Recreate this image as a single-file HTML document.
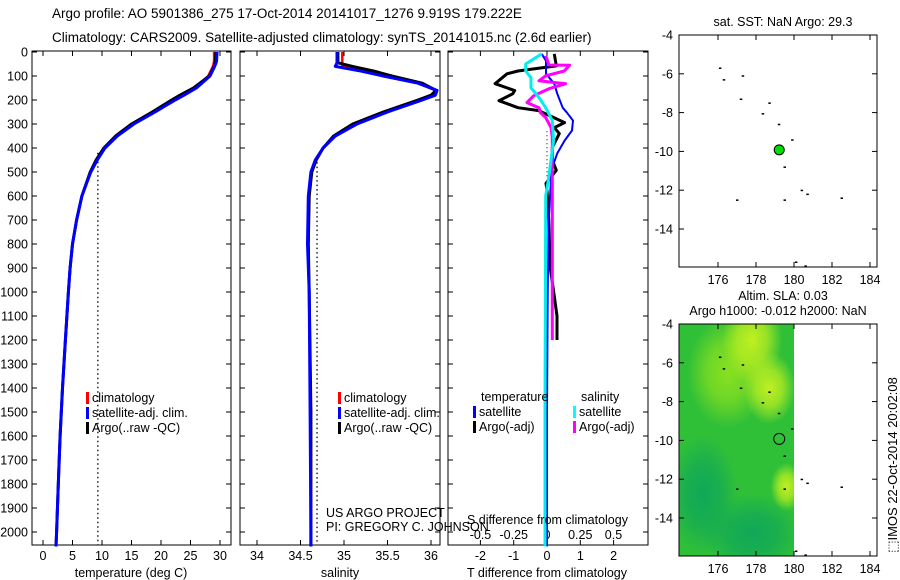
<!DOCTYPE html>
<html><head><meta charset="utf-8"><style>
body{margin:0;background:#fff;}
svg{display:block;font-family:"Liberation Sans",sans-serif;}
text{fill:#000;}
</style></head><body>
<svg id="fig" width="900" height="580" viewBox="0 0 900 580" xmlns="http://www.w3.org/2000/svg">
<text x="52" y="18" font-size="13.5">Argo profile: AO 5901386_275 17-Oct-2014 20141017_1276 9.919S 179.222E</text>
<text x="52" y="42" font-size="13.5">Climatology: CARS2009. Satellite-adjusted climatology: synTS_20141015.nc (2.6d earlier)</text>
<g id="p1"></g>
<g id="p2"></g>
<g id="p3"></g>
<g id="m1"></g>
<g id="m2"></g>
<text transform="translate(897,465) rotate(-90)" text-anchor="middle" font-size="13">⬚IMOS 22-Oct-2014 20:02:08</text>
</svg>
<script>
// ---- data ----
const depthTicks=[0,100,200,300,400,500,600,700,800,900,1000,1100,1200,1300,1400,1500,1600,1700,1800,1900,2000];
const depthT=[0,40,60,100,150,180,200,250,300,350,400,450,500,600,700,800,900,1000,1200,1400,1600,1800,2000,2060];
const tempArgo=[29.3,29.2,29.0,28.2,25.5,23.2,21.8,18.5,15.0,12.3,10.3,9.0,8.0,6.6,5.7,5.0,4.6,4.3,3.8,3.3,2.9,2.6,2.3,2.2];
const tempClim=[29.0,29.0,28.8,28.0,25.8,23.8,22.2,18.8,15.2,12.4,10.4,9.1,8.1,6.6,5.7,5.0,4.6,4.3,3.8,3.3,2.9,2.6,2.3,2.2];
const tempSat=[29.5,29.4,29.1,28.3,26.0,23.9,22.4,19.0,15.4,12.6,10.5,9.2,8.1,6.6,5.7,5.0,4.6,4.3,3.8,3.3,2.9,2.6,2.3,2.2];
const tempTicks=[0,5,10,15,20,25,30];
const depthS=[0,45,60,80,100,130,160,180,200,250,300,350,400,450,500,600,800,1000,1500,2000,2060];
const salArgo=[34.93,34.93,35.1,35.35,35.55,35.9,36.06,36.0,35.85,35.45,35.1,34.88,34.76,34.68,34.63,34.6,34.59,34.6,34.62,34.62,34.62];
const salClim=[34.98,34.98,34.98,35.25,35.45,35.85,36.05,36.05,35.9,35.5,35.15,34.9,34.76,34.68,34.63,34.6,34.59,34.6,34.62,34.62,34.62];
const salSat=[34.92,34.92,34.9,35.2,35.45,35.85,36.07,36.05,35.9,35.5,35.15,34.9,34.76,34.67,34.62,34.59,34.58,34.6,34.61,34.62,34.62];
const salTicks=[34,34.5,35,35.5,36];
const depthDA=[8,58,79,91,132,161,174,203,232,244,294,315,340,398,451,493,547,576,700,900,1000,1100,1200];
const tDiffArgo=[0.22,0.28,-0.87,-1.2,-1.56,-0.97,-1.03,-1.44,-0.87,-0.25,0.53,0.22,0.37,0.16,0.16,0.28,-0.03,0,0.05,0.1,0.2,0.3,0.3];
const depthDS=[8,37,91,132,174,232,253,286,327,369,422,480,534,700,1000,1500,2060];
const tDiffSat=[-0.16,-0.03,-0.03,0.22,0.31,0.47,0.6,0.78,0.75,0.53,0.31,0.16,0.12,0.05,0.02,0,0];
const depthSS=[8,50,79,107,149,190,232,286,369,451,534,600,1000,1500,2060];
const sDiffSat=[-0.04,-0.16,-0.16,-0.12,-0.12,-0.06,-0.01,0.04,0.05,0.03,0.01,-0.01,-0.012,-0.015,-0.015];
const depthSA=[16,54,55,79,99,120,132,153,182,211,232,253,273,315,356,480,600,800,1000,1200];
const sDiffArgo=[-0.01,0.015,0.17,0.13,-0.01,-0.06,0.14,0.015,-0.1,-0.15,-0.06,-0.05,-0.01,0.03,0.04,0.04,0.04,0.04,0.04,0.04];
const tDiffTicks=[-2,-1,0,1,2];
const sDiffTicks=[-0.5,-0.25,0,0.25,0.5];
const lonTicks=[176,178,180,182,184];
const latTicks=[-4,-6,-8,-10,-12,-14];
const islandLon=[176.1,176.3,177.3,177.2,178.7,178.35,179.2,179.9,179.5,180.4,180.7,177.0,179.5,182.5,180.1,180.6];
const islandLat=[-5.7,-6.3,-6.1,-7.3,-7.5,-8.05,-8.6,-9.4,-10.8,-12.0,-12.2,-12.5,-12.5,-12.4,-15.7,-15.9];
const argoLon=179.222, argoLat=-9.919;

const NS='http://www.w3.org/2000/svg';
function el(parent,tag,attrs,txt){const e=document.createElementNS(NS,tag);for(const k in attrs)e.setAttribute(k,attrs[k]);if(txt!==undefined)e.textContent=txt;parent.appendChild(e);return e;}
const Y0=52, YPER=0.24, YB=545, YT=51;
const yD=d=>Y0+d*YPER;
function line(g,xs,ds,fx,color,w,name){
  const pts=xs.map((v,i)=>fx(v).toFixed(1)+','+yD(ds[i]).toFixed(1)).join(' ');
  const p=el(g,'polyline',{points:pts,fill:'none',stroke:color,'stroke-width':w,'stroke-linejoin':'round'});
  
  
}
function frame(g,x0,x1,showY){
  const r=el(g,'rect',{x:x0,y:YT,width:x1-x0,height:YB-YT,fill:'none',stroke:'#000','stroke-width':1});
  
  
  depthTicks.forEach(d=>{
    el(g,'line',{x1:x0,x2:x0+5,y1:yD(d),y2:yD(d),stroke:'#000'});
    el(g,'line',{x1:x1,x2:x1-5,y1:yD(d),y2:yD(d),stroke:'#000'});
    if(showY){const t=el(g,'text',{x:x0-4,y:yD(d)+4.5,'text-anchor':'end','font-size':12.5},String(d));
      
      }
  });
}
function xticks(g,ticks,fx,y,labels){
  ticks.forEach((v,i)=>{
    el(g,'line',{x1:fx(v),x2:fx(v),y1:YB,y2:YB-5,stroke:'#000'});
    el(g,'line',{x1:fx(v),x2:fx(v),y1:YT,y2:YT+5,stroke:'#000'});
    if(y){const t=el(g,'text',{x:fx(v),y:y,'text-anchor':'middle','font-size':12.5},labels?labels[i]:String(v));
      
      }
  });
}
function legend(g,x,y,items){
  items.forEach((it,i)=>{
    el(g,'rect',{x:x,y:y+i*15-10,width:3,height:12,fill:it[0]});
    const t=el(g,'text',{x:x+6,y:y+i*15,'font-size':12.5},it[1]);
    
    
  });
}
// Panel 1
const p1=document.getElementById('p1');
const fT=v=>43+v*5.9;
frame(p1,32,231,true);
xticks(p1,tempTicks,fT,560);
el(p1,'line',{x1:fT(9.3),x2:fT(9.3),y1:yD(420),y2:YB,stroke:'#000','stroke-dasharray':'1.5,3','stroke-width':1.3});
line(p1,tempClim,depthT,fT,'#ff0000',2.5,'temp-climatology-line');
line(p1,tempArgo,depthT,fT,'#000',3,'temp-argo-line');
line(p1,tempSat,depthT,fT,'#0000ff',3,'temp-satellite-line');
legend(p1,86,402,[['#f00','climatology'],['#00f','satellite-adj. clim.'],['#000','Argo(..raw -QC)']]);
el(p1,'text',{x:131,y:577,'text-anchor':'middle','font-size':12.5},'temperature (deg C)');
// Panel 2
const p2=document.getElementById('p2');
const fS=v=>257+(v-34)*87;
frame(p2,240,440,false);
xticks(p2,salTicks,fS,560,['34','34.5','35','35.5','36']);
el(p2,'line',{x1:fS(34.69),x2:fS(34.69),y1:yD(440),y2:YB,stroke:'#000','stroke-dasharray':'1.5,3','stroke-width':1.3});
line(p2,salClim,depthS,fS,'#ff0000',2.5,'sal-climatology-line');
line(p2,salArgo,depthS,fS,'#000',3,'sal-argo-line');
line(p2,salSat,depthS,fS,'#0000ff',3,'sal-satellite-line');
legend(p2,338,402,[['#f00','climatology'],['#00f','satellite-adj. clim.'],['#000','Argo(..raw -QC)']]);
el(p2,'text',{x:340,y:577,'text-anchor':'middle','font-size':12.5},'salinity');
el(p2,'text',{x:326,y:517,'font-size':12.5},'US ARGO PROJECT');
el(p2,'text',{x:326,y:531,'font-size':12.5},'PI: GREGORY C. JOHNSON');
// Panel 3
const p3=document.getElementById('p3');
const fDT=v=>547+v*33.3, fDS=v=>547+v*133;
frame(p3,448,648,false);
xticks(p3,tDiffTicks,fDT,560);
sDiffTicks.forEach(v=>{const t=el(p3,'text',{x:fDS(v),y:539,'text-anchor':'middle','font-size':12.5},String(v));
  
  });
el(p3,'line',{x1:547,x2:547,y1:yD(330),y2:yD(520),stroke:'#000','stroke-dasharray':'1,3'});
line(p3,tDiffArgo,depthDA,fDT,'#000',3,'tdiff-argo-line');
line(p3,tDiffSat,depthDS,fDT,'#0000ff',2,'tdiff-satellite-line');
line(p3,sDiffArgo,depthSA,fDS,'#ff00ff',3,'sdiff-argo-line');
line(p3,sDiffSat,depthSS,fDS,'#00eeee',3,'sdiff-satellite-line');
el(p3,'text',{x:481,y:401,'font-size':12.5},'temperature');
el(p3,'text',{x:581,y:401,'font-size':12.5},'salinity');
legend(p3,473,416,[['#00f','satellite'],['#000','Argo(-adj)']]);
legend(p3,573,416,[['#0ff','satellite'],['#f0f','Argo(-adj)']]);
el(p3,'text',{x:467,y:524,'font-size':12.5},'S difference from climatology');
el(p3,'text',{x:547,y:577,'text-anchor':'middle','font-size':12.5},'T difference from climatology');
// Maps
function map(g,top,title1,title2,colored){
  const L=679,R=877,bottom=top+232;
  const fx=lon=>718+(lon-176)*19, fy=lat=>top+(-4-lat)*19.4;
  if(colored){
    const defs=el(g,'defs',{});
    const mk=(id,c)=>{const rg=el(defs,'radialGradient',{id:id});el(rg,'stop',{offset:'0','stop-color':c,'stop-opacity':1});el(rg,'stop',{offset:'0.5','stop-color':c,'stop-opacity':0.7});el(rg,'stop',{offset:'1','stop-color':c,'stop-opacity':0});};
    mk('yg','#c0f020');mk('dg','#10a858');mk('lg','#88e020');
    const cpath=el(defs,'clipPath',{id:'cp'});
    el(cpath,'rect',{x:L,y:top,width:fx(180)-L,height:bottom-top});
    const cg=el(g,'g',{'clip-path':'url(#cp)'});
    
    
    el(cg,'rect',{x:L,y:top,width:fx(180)-L,height:bottom-top,fill:'#30c038'});
    el(cg,'ellipse',{cx:fx(177.8),cy:fy(-14.8),rx:50,ry:40,fill:'url(#dg)'});
    el(cg,'ellipse',{cx:fx(175.2),cy:fy(-12.8),rx:35,ry:60,fill:'url(#dg)'});
    el(cg,'ellipse',{cx:fx(176.5),cy:fy(-6.5),rx:40,ry:55,fill:'url(#lg)'});
    el(cg,'ellipse',{cx:fx(177.8),cy:fy(-4.8),rx:30,ry:45,fill:'url(#yg)'});
    el(cg,'ellipse',{cx:fx(178.7),cy:fy(-7.3),rx:26,ry:36,fill:'url(#yg)'});
    el(cg,'ellipse',{cx:fx(179.6),cy:fy(-12.4),rx:16,ry:24,fill:'url(#yg)'});
  }
  el(g,'rect',{x:L,y:top,width:R-L,height:bottom-top,fill:'none',stroke:'#000'});
  lonTicks.forEach(v=>{el(g,'line',{x1:fx(v),x2:fx(v),y1:bottom,y2:bottom-5,stroke:'#000'});el(g,'line',{x1:fx(v),x2:fx(v),y1:top,y2:top+5,stroke:'#000'});
    el(g,'text',{x:fx(v),y:bottom+17,'text-anchor':'middle','font-size':12.5},String(v));});
  latTicks.forEach(v=>{el(g,'line',{x1:L,x2:L+5,y1:fy(v),y2:fy(v),stroke:'#000'});el(g,'line',{x1:R,x2:R-5,y1:fy(v),y2:fy(v),stroke:'#000'});
    el(g,'text',{x:L-6,y:fy(v)+4.5,'text-anchor':'end','font-size':12.5},String(v));});
  islandLon.forEach((lon,i)=>{const r=el(g,'rect',{x:fx(lon)-1,y:fy(islandLat[i])-0.5,width:2.5,height:1.5,fill:'#000'});
    
    });
  const c=el(g,'circle',{cx:fx(argoLon),cy:fy(argoLat),r:colored?5.5:5,fill:colored?'none':'#00dd00',stroke:'#000','stroke-width':1});
  
  
  if(title1)el(g,'text',{x:783,y:top-(title2?24:9),'text-anchor':'middle','font-size':12.5},title1);
  if(title2)el(g,'text',{x:778,y:top-9,'text-anchor':'middle','font-size':12.5},title2);
}
map(document.getElementById('m1'),35,'sat. SST: NaN Argo: 29.3',null,false);
map(document.getElementById('m2'),324,'Altim. SLA: 0.03','Argo h1000: -0.012 h2000: NaN',true);
</script>
</body></html>
